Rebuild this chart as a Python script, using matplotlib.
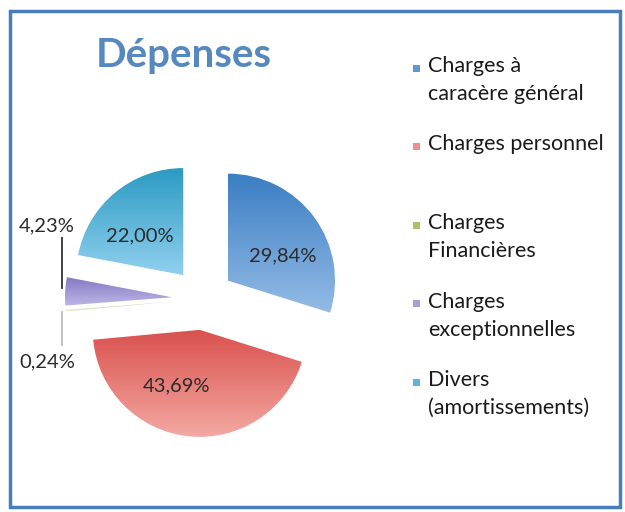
import numpy as np
import matplotlib
matplotlib.use("Agg")
import matplotlib.pyplot as plt
from matplotlib.colors import LinearSegmentedColormap
from matplotlib.patches import Rectangle

# ---- data ----
categories = ["Charges à\ncaracère général", "Charges personnel", "Charges\nFinancières",
              "Charges\nexceptionnelles", "Divers\n(amortissements)"]
values = [29.84, 43.69, 0.24, 4.23, 22.00]
value_labels = ["29,84%", "43,69%", "0,24%", "4,23%", "22,00%"]
title = "Dépenses"

# ---- styles ----
top_colors = ["#3A7EC3", "#D9514E", "#C9DDA8", "#8479C4", "#2C9AC3"]
bottom_colors = ["#94BBE6", "#F4A9A2", "#DDEBC7", "#BDB6E6", "#90D0EE"]
legend_colors = ["#5F98D2", "#EE8F8A", "#A9C468", "#A7A0D8", "#5EB6DC"]
FONT = "Lato"

W, H = 625, 512
fig = plt.figure(figsize=(W / 100, H / 100), dpi=100)
cx_px, cy_px, r_px = 203, 299, 107
ax = fig.add_axes([0, 0, 1, 1])
ax.set_xlim(-cx_px / r_px, (W - cx_px) / r_px)
ax.set_ylim((cy_px - H) / r_px, cy_px / r_px)
ax.set_aspect("equal")
ax.axis("off")

wedges, _ = ax.pie(values, startangle=90, counterclock=False, radius=1.0,
                   explode=[0.29] * len(values),
                   wedgeprops=dict(linewidth=0))

# gradient fill per wedge
for w, c0, c1 in zip(wedges, top_colors, bottom_colors):
    ext = w.get_path().get_extents()
    cmap = LinearSegmentedColormap.from_list("g", [c0, c1])
    grad = np.linspace(0, 1, 256).reshape(-1, 1)
    w.set_facecolor("none")
    im = ax.imshow(grad, cmap=cmap, aspect="auto", origin="upper",
                   extent=(ext.x0, ext.x1, ext.y0, ext.y1), zorder=1,
                   interpolation="bilinear")
    im.set_clip_path(w)
ax.set_xlim(-cx_px / r_px, (W - cx_px) / r_px)
ax.set_ylim((cy_px - H) / r_px, cy_px / r_px)

# value labels
label_pos = [(0.748, 0.402), (-0.243, -0.813), (-1.458, -0.589), (-1.458, 0.682), (-0.589, 0.589)]
for (x, y), t in zip(label_pos, value_labels):
    ax.text(x, y, t, ha="center", va="center", fontsize=14.5, family=FONT,
            color="#2B2B2B", zorder=5)
# leader lines for small slices
ax.plot([-1.318, -1.318], [0.570, 0.103], color="#333333", lw=1.3, zorder=4)
ax.plot([-1.318, -1.318], [-0.121, -0.430], color="#BBBBBB", lw=1.3, zorder=4)

# title
fig.text(184 / W, 1 - 55 / H, title, ha="center", va="center", fontsize=29,
         fontweight="bold", family=FONT, color="#5588BE")

# legend (manual)
y0 = 68
for i, (lab, col) in enumerate(zip(categories, legend_colors)):
    yy = y0 + i * 78.5
    fig.patches.append(Rectangle((413 / W, 1 - (yy + 3.5) / H), 7 / W, 7 / H,
                                 transform=fig.transFigure, facecolor=col,
                                 edgecolor="none"))
    fig.text(428 / W, 1 - (yy - 12) / H, lab, ha="left", va="top", fontsize=15.5,
             family=FONT, color="#1A1A1A", linespacing=1.5)

# frame border
fig.patches.append(Rectangle((10 / W, 5 / H), (W - 15) / W, (H - 16) / H,
                             transform=fig.transFigure, facecolor="none",
                             edgecolor="#4A7EBB", linewidth=2.5))

fig.savefig("out.png", dpi=100)
